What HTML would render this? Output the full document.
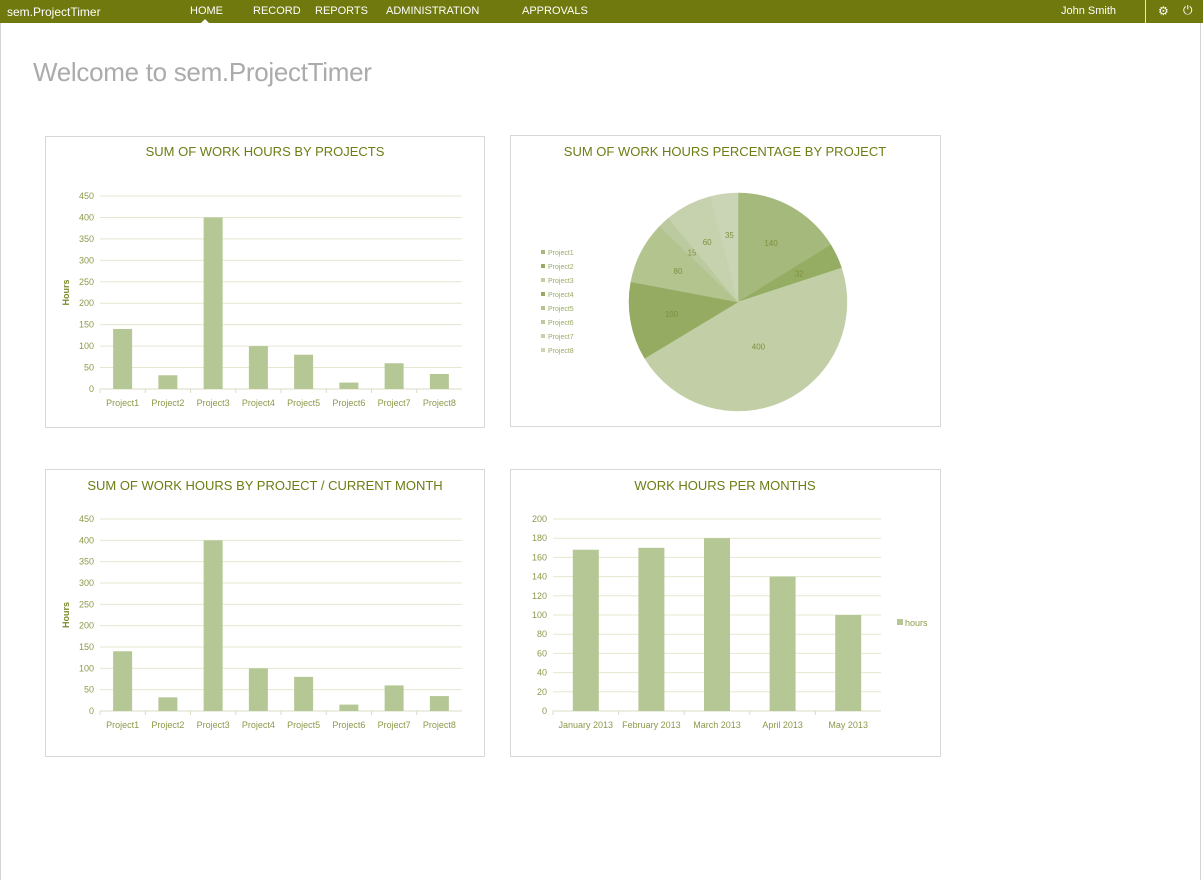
<!DOCTYPE html>
<html><head><meta charset="utf-8"><style>
body{margin:0;width:1203px;height:880px;overflow:hidden;background:#fff;font-family:"Liberation Sans",sans-serif;position:relative}
#page{position:absolute;left:0;top:0;width:1201px;height:880px;border-left:1px solid #d4d4d4;border-right:1px solid #d4d4d4;box-sizing:border-box}
#nav{position:absolute;left:0;top:0;width:1203px;height:23px;background:#6f790d;color:#fff;font-size:11px}
#nav span{position:absolute;top:5px}
#welcome{position:absolute;left:33px;top:57px;font-size:26px;color:#ababab;font-weight:300;letter-spacing:-0.3px}
.panel{position:absolute;border:1px solid #d8d8d8;box-sizing:border-box}
svg{position:absolute;left:0;top:0}
</style></head><body>
<div id="page"></div>
<div id="nav">
<span style="left:7px;font-size:12px">sem.ProjectTimer</span>
<span style="left:190px">HOME</span>
<span style="left:253px">RECORD</span>
<span style="left:315px">REPORTS</span>
<span style="left:386px">ADMINISTRATION</span>
<span style="left:522px">APPROVALS</span>
<span style="left:1061px">John Smith</span>
<div style="position:absolute;left:1145px;top:0;width:1px;height:23px;background:#e8e8d0"></div>
<span style="left:1158px;top:4px;font-size:12px">⚙</span>
<span style="left:1183px;top:3px;font-size:12px">⏻</span>
<div style="position:absolute;left:201px;top:19px;width:0;height:0;border-left:4px solid transparent;border-right:4px solid transparent;border-bottom:4px solid #fff"></div>
</div>
<div id="welcome">Welcome to sem.ProjectTimer</div>
<div class="panel" style="left:45px;top:136px;width:440px;height:292px"></div>
<div class="panel" style="left:510px;top:135px;width:431px;height:292px"></div>
<div class="panel" style="left:45px;top:469px;width:440px;height:288px"></div>
<div class="panel" style="left:510px;top:469px;width:431px;height:288px"></div>
<svg id="s" width="1203" height="880" xmlns="http://www.w3.org/2000/svg" font-family="Liberation Sans, sans-serif"></svg>
<script>
const projects=["Project1","Project2","Project3","Project4","Project5","Project6","Project7","Project8"];
const hoursAll=[140,32,400,100,80,15,60,35];
const hoursMonth=[140,32,400,100,80,15,60,35];
const projTicks=[0,50,100,150,200,250,300,350,400,450];
const months=["January 2013","February 2013","March 2013","April 2013","May 2013"];
const monthHours=[168,170,180,140,100];
const monthTicks=[0,20,40,60,80,100,120,140,160,180,200];
const pieColors=["#a6b97c","#95ad63","#c2cfa6","#94ab61","#b3c48f","#bccaa0","#c6d2ae","#cad5b6"];

const S=document.getElementById('s');const NS="http://www.w3.org/2000/svg";
function mk(t,a,txt){const e=document.createElementNS(NS,t);for(const k in a)e.setAttribute(k,a[k]);if(txt!==undefined)e.textContent=txt;S.appendChild(e);return e;}
const TC="#6e7c14",LC="#8a9a4a",GC="#e3e8cf",BC="#b5c794";
function title(x,y,t,name){const e=mk('text',{x:x,y:y,'text-anchor':'middle','font-size':13,fill:TC},t);}
function bars(cats,vals,ticks,x0,x1,y0,y1,bw,name,ylab){
 const max=ticks[ticks.length-1];const Y=v=>y0-(v/max)*(y0-y1);const step=(x1-x0)/cats.length;
 ticks.forEach(t=>{const l=mk('line',{x1:x0,x2:x1,y1:Y(t),y2:Y(t),stroke:GC,'stroke-width':1});
  const tx=mk('text',{x:x0-6,y:Y(t)+3,'text-anchor':'end','font-size':9,fill:LC},t);});
 const ax=mk('line',{x1:x0,x2:x1,y1:y0,y2:y0,stroke:"#d8dcc4"});
 cats.forEach((c,i)=>{const cx=x0+step*(i+0.5);
  const tk=mk('line',{x1:x0+step*i,x2:x0+step*i,y1:y0,y2:y0+4,stroke:"#d8dcc4"});
  const r=mk('rect',{x:cx-bw/2,y:Y(vals[i]),width:bw,height:y0-Y(vals[i]),fill:BC});
  const tx=mk('text',{x:cx,y:y0+17,'text-anchor':'middle','font-size':9,fill:LC},c);});
 if(ylab){const yl=mk('text',{x:0,y:0,transform:`translate(${x0-31},${(y0+y1)/2}) rotate(-90)`,'text-anchor':'middle','font-size':9,'font-weight':'bold',fill:"#7a8a2a"},ylab);}
}
title(265,156,"SUM OF WORK HOURS BY PROJECTS","projects-chart-title");
bars(projects,hoursAll,projTicks,100,462,389,196,19,'projects','Hours');
title(265,490,"SUM OF WORK HOURS BY PROJECT / CURRENT MONTH","month-projects-chart-title");
bars(projects,hoursMonth,projTicks,100,462,711,519,19,'month-projects','Hours');
title(725,490,"WORK HOURS PER MONTHS","months-chart-title");
bars(months,monthHours,monthTicks,553,881,711,519,26,'months',null);
const lg=mk('rect',{x:897,y:619,width:6,height:6,fill:BC});
const lgt=mk('text',{x:905,y:626,'font-size':9,fill:LC},"hours");
// pie
title(725,156,"SUM OF WORK HOURS PERCENTAGE BY PROJECT","pie-chart-title");
const cx=738,cy=302,R=109;const tot=hoursAll.reduce((a,b)=>a+b,0);let a0=-Math.PI/2;
hoursAll.forEach((v,i)=>{const a1=a0+v/tot*2*Math.PI;const large=(a1-a0)>Math.PI?1:0;
 const p=mk('path',{d:`M${cx},${cy}L${cx+R*Math.cos(a0)},${cy+R*Math.sin(a0)}A${R},${R} 0 ${large} 1 ${cx+R*Math.cos(a1)},${cy+R*Math.sin(a1)}Z`,fill:pieColors[i],stroke:pieColors[i],'stroke-width':0.5});
 
 const am=(a0+a1)/2;const rr=i==2?0.45:0.62;
 const t=mk('text',{x:cx+R*rr*Math.cos(am),y:cy+R*rr*Math.sin(am)+3,'text-anchor':'middle','font-size':8,fill:"#7f9040"},v);
 const ls=mk('rect',{x:541,y:250+i*14,width:4,height:4,fill:pieColors[i]});
 const lt=mk('text',{x:548,y:255+i*14,'font-size':7,fill:"#9aab66"},projects[i]);
 a0=a1;});
</script>
</body></html>
